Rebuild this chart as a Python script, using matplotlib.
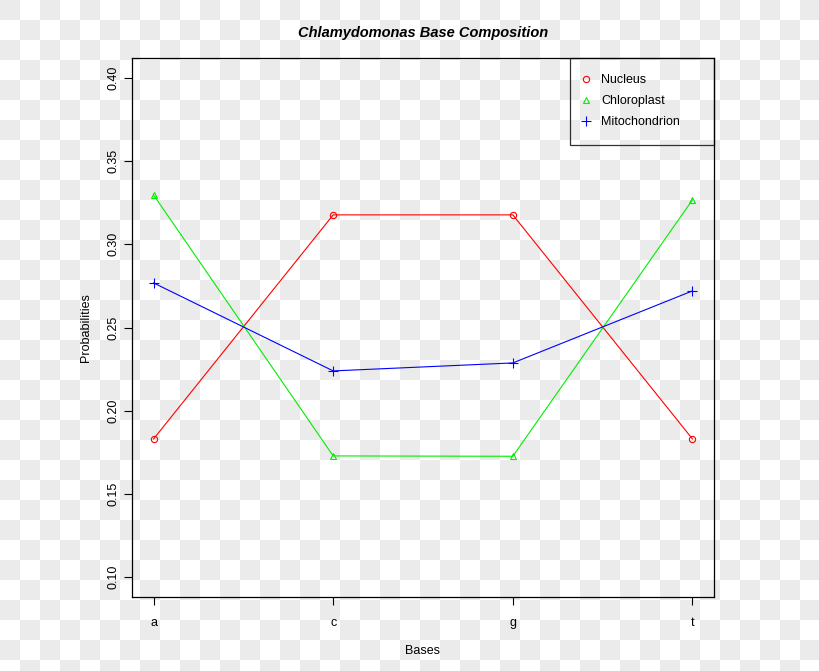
import matplotlib
matplotlib.use("Agg")
import matplotlib.pyplot as plt
import numpy as np

bases = ["a", "c", "g", "t"]
nucleus = [0.183, 0.3177, 0.3177, 0.183]
chloroplast = [0.3297, 0.1728, 0.1726, 0.3267]
mitochondrion = [0.2768, 0.2239, 0.2287, 0.2720]
y_ticks = [0.10, 0.15, 0.20, 0.25, 0.30, 0.35, 0.40]

plt.rcParams['font.family'] = ['Liberation Sans', 'DejaVu Sans']

fig = plt.figure(figsize=(8.2, 6.71), dpi=100)

# checkered "transparent" background in its own axes behind the plot
h, w = 671, 820
yy, xx = np.mgrid[0:h, 0:w]
check = ((yy // 20 + xx // 20) % 2 == 0)
bg = np.ones((h, w, 3))
bg[check] = 0.925
bg_ax = fig.add_axes([0, 0, 1, 1], zorder=-1)
bg_ax.imshow(bg, aspect="auto", interpolation="nearest")
bg_ax.axis("off")

ax = fig.add_axes([132 / 820, 1 - 597 / 671, 582 / 820, 539 / 671])
ax.set_facecolor("none")
x = np.arange(1, len(bases) + 1)

ax.plot(x, nucleus, color="red", marker="o", mfc="none", ms=4.5, mew=0.8, lw=0.8, label="Nucleus")
ax.plot(x, chloroplast, color="#00ee00", marker="^", mfc="none", ms=5, mew=0.8, lw=0.8, label="Chloroplast")
ax.plot(x, mitochondrion, color="blue", marker="+", ms=7, mew=0.8, lw=0.8, label="Mitochondrion")

ax.set_xlim(0.88, 4.12)
ax.set_ylim(0.088, 0.412)
ax.set_xticks(x)
ax.set_xticklabels(bases)
ax.set_yticks(y_ticks)
ax.set_yticklabels(["%.2f" % v for v in y_ticks], rotation=90, va="center")
ax.tick_params(labelsize=9, length=5.5)
ax.tick_params(axis="x", pad=9)
ax.tick_params(axis="y", pad=3.6)
for s in ax.spines.values():
    s.set_linewidth(0.9)

ax.set_xlabel("Bases", fontsize=9, labelpad=11.5)
ax.set_ylabel("Probabilities", fontsize=9, labelpad=11)
ax.set_title("Chlamydomonas Base Composition", fontsize=10.5, fontweight="bold",
             fontstyle="italic", pad=15)

leg_w = 144 / 582
leg = ax.legend(loc="upper right", bbox_to_anchor=(1 - leg_w, 0, leg_w, 1), mode="expand",
                fontsize=9, frameon=True, fancybox=False, edgecolor="black",
                borderaxespad=0, handlelength=0, handletextpad=1.2, borderpad=1.3,
                labelspacing=0.72)
leg.get_frame().set_linewidth(0.9)
leg.get_frame().set_facecolor("none")
for line in leg.get_lines():
    line.set_linestyle("none")

fig.savefig("out.png", dpi=100)
